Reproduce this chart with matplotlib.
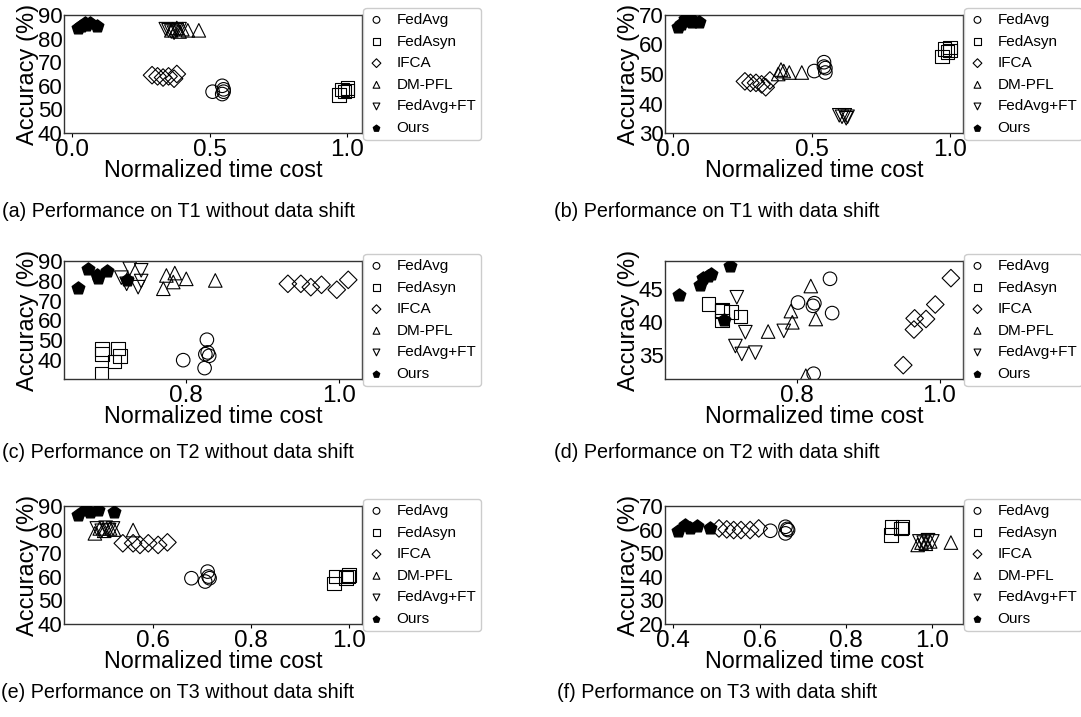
import matplotlib
matplotlib.use('Agg')
import matplotlib.pyplot as plt

plt.rcParams['font.family'] = ['Liberation Sans', 'DejaVu Sans']

methods = ['FedAvg', 'FedAsyn', 'IFCA', 'DM-PFL', 'FedAvg+FT', 'Ours']
markers = ['o', 's', 'D', '^', 'v', 'p']

# (a) T1 without data shift
a_fedavg = ([0.51, 0.545, 0.55, 0.55, 0.545], [57.5, 60.0, 58.5, 57.5, 56.5])
a_fedasyn = ([0.97, 0.98, 0.99, 1.0, 1.0], [56.0, 58.5, 57.5, 58.0, 59.0])
a_ifca = ([0.29, 0.31, 0.33, 0.35, 0.37, 0.38], [64.5, 64.0, 63.5, 64.0, 63.0, 65.0])
a_dmpfl = ([0.36, 0.38, 0.39, 0.40, 0.42, 0.46], [83.5, 84.5, 83.0, 84.0, 83.5, 83.5])
a_ft = ([0.34, 0.35, 0.36, 0.37, 0.38, 0.39], [84.0, 83.5, 83.0, 82.5, 83.5, 84.0])
a_ours = ([0.02, 0.03, 0.045, 0.05, 0.065, 0.09], [84.5, 85.5, 86.5, 85.8, 86.7, 85.5])

# (b) T1 with data shift
b_fedavg = ([0.51, 0.545, 0.55, 0.55, 0.545], [51.0, 54.0, 52.0, 50.5, 52.5])
b_fedasyn = ([0.97, 0.98, 0.99, 1.0, 1.0], [56.0, 58.5, 57.5, 58.0, 59.0])
b_ifca = ([0.26, 0.28, 0.30, 0.32, 0.335, 0.35], [47.5, 47.0, 47.0, 46.5, 45.5, 47.8])
b_dmpfl = ([0.38, 0.39, 0.40, 0.42, 0.465], [50.0, 51.5, 51.0, 50.5, 50.5])
b_ft = ([0.60, 0.61, 0.62, 0.625, 0.63], [36.0, 35.5, 36.0, 35.0, 35.5])
b_ours = ([0.02, 0.03, 0.045, 0.05, 0.065, 0.07, 0.095], [66.0, 67.0, 68.5, 68.0, 68.5, 67.5, 67.5])

# (c) T2 without data shift
c_fedavg = ([0.796, 0.824, 0.827, 0.825, 0.828, 0.830], [40.0, 36.0, 50.3, 43.0, 43.9, 42.2])
c_fedasyn = ([0.690, 0.690, 0.689, 0.706, 0.711, 0.713], [45.6, 43.0, 32.9, 39.3, 45.9, 42.2])
c_ifca = ([0.933, 0.950, 0.963, 0.977, 0.997, 1.012], [78.5, 78.5, 76.8, 78.0, 75.5, 80.5])
c_dmpfl = ([0.770, 0.774, 0.785, 0.783, 0.800, 0.838], [76.0, 82.7, 83.9, 79.4, 81.0, 80.2])
c_ft = ([0.715, 0.726, 0.741, 0.741, 0.737, 0.722], [81.6, 86.1, 85.3, 79.9, 76.8, 78.5])
c_ours = ([0.658, 0.672, 0.683, 0.684, 0.696, 0.722], [76.3, 86.0, 82.8, 81.5, 85.0, 80.2])

# (d) T2 with data shift
d_fedavg = ([0.801, 0.822, 0.824, 0.846, 0.849, 0.823], [42.9, 42.4, 42.8, 46.5, 41.3, 32.1])
d_fedasyn = ([0.675, 0.694, 0.694, 0.694, 0.707, 0.720], [42.7, 41.8, 41.6, 40.2, 41.5, 40.8])
d_ifca = ([0.949, 0.964, 0.965, 0.981, 0.994, 1.016], [33.4, 38.8, 40.5, 40.4, 42.6, 46.6])
d_dmpfl = ([0.759, 0.791, 0.793, 0.819, 0.826, 0.812], [38.5, 41.6, 39.9, 45.4, 40.4, 31.8])
d_ft = ([0.715, 0.713, 0.722, 0.727, 0.741, 0.781], [43.7, 36.3, 35.1, 38.4, 35.3, 38.6])
d_ours = ([0.633, 0.663, 0.668, 0.674, 0.678, 0.706, 0.697], [44.1, 45.6, 46.6, 47.0, 47.3, 48.5, 40.2])

# (e) T3 without data shift
e_fedavg = ([0.678, 0.706, 0.711, 0.713, 0.715], [59.4, 58.0, 62.2, 60.1, 59.4])
e_fedasyn = ([0.969, 0.972, 0.993, 0.997, 0.999], [57.2, 60.1, 59.4, 60.1, 60.8])
e_ifca = ([0.538, 0.559, 0.573, 0.590, 0.610, 0.629], [74.2, 74.2, 73.5, 74.2, 73.5, 74.6])
e_dmpfl = ([0.481, 0.491, 0.500, 0.512, 0.520, 0.559], [78.4, 80.5, 79.5, 80.5, 80.0, 79.8])
e_ft = ([0.485, 0.495, 0.503, 0.510, 0.518], [80.5, 79.5, 80.8, 79.8, 80.5])
e_ours = ([0.446, 0.461, 0.472, 0.488, 0.520], [86.2, 88.3, 87.3, 88.3, 87.3])

# (f) T3 with data shift
f_fedavg = ([0.625, 0.660, 0.660, 0.664, 0.666], [59.5, 61.2, 58.4, 60.3, 59.8])
f_fedasyn = ([0.904, 0.905, 0.927, 0.931], [57.7, 61.2, 60.5, 61.2])
f_ifca = ([0.506, 0.524, 0.540, 0.557, 0.578, 0.598], [60.5, 60.1, 59.8, 59.8, 59.8, 60.5])
f_dmpfl = ([0.966, 0.975, 0.985, 0.995, 1.043], [53.5, 54.5, 54.0, 55.0, 54.5])
f_ft = ([0.970, 0.980, 0.990, 1.000], [55.0, 54.5, 55.5, 55.0])
f_ours = ([0.410, 0.427, 0.439, 0.454, 0.485], [59.4, 62.0, 60.5, 61.7, 60.5])

captions = ['(a) Performance on T1 without data shift',
            '(b) Performance on T1 with data shift',
            '(c) Performance on T2 without data shift',
            '(d) Performance on T2 with data shift',
            '(e) Performance on T3 without data shift',
            '(f) Performance on T3 with data shift']

panels = [
    [a_fedavg, a_fedasyn, a_ifca, a_dmpfl, a_ft, a_ours],
    [b_fedavg, b_fedasyn, b_ifca, b_dmpfl, b_ft, b_ours],
    [c_fedavg, c_fedasyn, c_ifca, c_dmpfl, c_ft, c_ours],
    [d_fedavg, d_fedasyn, d_ifca, d_dmpfl, d_ft, d_ours],
    [e_fedavg, e_fedasyn, e_ifca, e_dmpfl, e_ft, e_ours],
    [f_fedavg, f_fedasyn, f_ifca, f_dmpfl, f_ft, f_ours],
]

xlims = [(-0.03, 1.053), (-0.028, 1.046), (0.64, 1.03), (0.614, 1.033), (0.418, 1.026), (0.381, 1.071)]
ylims = [(40, 90), (30, 70), (30.5, 90), (31.3, 49.2), (40, 90), (20, 70)]
xticks = [[0.0, 0.5, 1.0], [0.0, 0.5, 1.0], [0.8, 1.0], [0.8, 1.0], [0.6, 0.8, 1.0], [0.4, 0.6, 0.8, 1.0]]
yticks = [[40, 50, 60, 70, 80, 90], [30, 40, 50, 60, 70], [40, 50, 60, 70, 80, 90],
          [35, 40, 45], [40, 50, 60, 70, 80, 90], [20, 30, 40, 50, 60, 70]]

W, H = 1081, 717
fig = plt.figure(figsize=(W / 100, H / 100), dpi=100)

lefts = [64, 665]
tops = [15, 261, 506]
aw, ah = 298, 118
cap_x = [178, 717]
cap_y = [211, 452, 693]

for i, data in enumerate(panels):
    r, c = i // 2, i % 2
    ax = fig.add_axes([lefts[c] / W, 1 - (tops[r] + ah) / H, aw / W, ah / H])
    for k, (xs, ys) in enumerate(data):
        if methods[k] == 'Ours':
            ax.scatter(xs, ys, marker=markers[k], s=90, c='black', label=methods[k], zorder=3)
        else:
            sz = 80 if markers[k] == 'D' else 95
            ax.scatter(xs, ys, marker=markers[k], s=sz, facecolors='none', edgecolors='black',
                       linewidths=0.8, label=methods[k])
    ax.set_xlim(xlims[i])
    ax.set_ylim(ylims[i])
    ax.set_xticks(xticks[i])
    ax.set_yticks(yticks[i])
    ax.tick_params(axis='x', labelsize=17.5, length=3, pad=1)
    ax.tick_params(axis='y', labelsize=16, length=0, pad=1)
    ax.set_xlabel('Normalized time cost', fontsize=16.8, labelpad=-1)
    ax.set_ylabel('Accuracy (%)', fontsize=17, labelpad=-1)
    for sp in ax.spines.values():
        sp.set_color('#333333')
        sp.set_linewidth(1)
    ax.legend(loc='center left', bbox_to_anchor=(1.005, 0.5), fontsize=11, markerscale=0.5,
              handlelength=1.0, handletextpad=0.8, labelspacing=0.5, borderpad=0.35,
              borderaxespad=0, framealpha=1, edgecolor='#cccccc')
    fig.text(cap_x[c] / W, 1 - cap_y[r] / H, captions[i], fontsize=14.2, ha='center', va='center')

fig.savefig('out.png', dpi=100)
